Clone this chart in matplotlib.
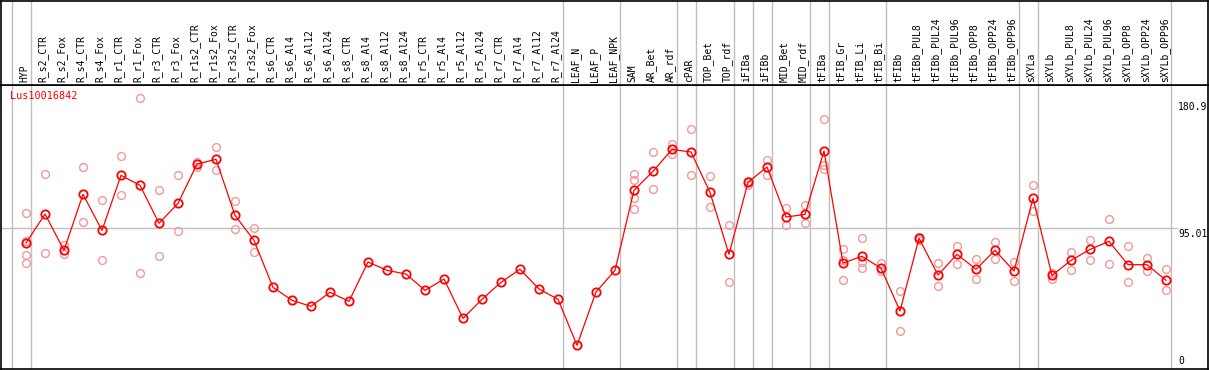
import numpy as np
import matplotlib.pyplot as plt

samples = ["HYP", "R_s2_CTR", "R_s2_Fox", "R_s4_CTR", "R_s4_Fox", "R_r1_CTR", "R_r1_Fox",
           "R_r3_CTR", "R_r3_Fox", "R_r1s2_CTR", "R_r1s2_Fox", "R_r3s2_CTR", "R_r3s2_Fox",
           "R_s6_CTR", "R_s6_Al4", "R_s6_Al12", "R_s6_Al24", "R_s8_CTR", "R_s8_Al4",
           "R_s8_Al12", "R_s8_Al24", "R_r5_CTR", "R_r5_Al4", "R_r5_Al12", "R_r5_Al24",
           "R_r7_CTR", "R_r7_Al4", "R_r7_Al12", "R_r7_Al24", "LEAF_N", "LEAF_P", "LEAF_NPK",
           "SAM", "AR_Bet", "AR_rdf", "cPAR", "TOP_Bet", "TOP_rdf", "iFIBa", "iFIBb",
           "MID_Bet", "MID_rdf", "tFIBa", "tFIB_Gr", "tFIB_Li", "tFIB_Bi", "tFIBb",
           "tFIBb_PUL8", "tFIBb_PUL24", "tFIBb_PUL96", "tFIBb_OPP8", "tFIBb_OPP24",
           "tFIBb_OPP96", "sXYLa", "sXYLb", "sXYLb_PUL8", "sXYLb_PUL24", "sXYLb_PUL96",
           "sXYLb_OPP8", "sXYLb_OPP24", "sXYLb_OPP96"]

means = [84.9, 104.4, 80.0, 117.7, 93.4, 130.5, 123.8, 98.2, 111.6, 138.1, 141.3, 103.5, 86.7,
         55.0, 46.3, 42.2, 51.7, 45.6, 72.1, 66.5, 64.0, 53.0, 60.6, 34.1, 47.0,
         58.4, 67.2, 53.9, 47.0, 16.0, 51.9, 66.5,
         120.4, 133.2, 148.0, 146.2, 119.0, 77.3, 125.8, 136.1, 102.4, 104.2, 146.9,
         71.4, 75.9, 67.9, 39.1, 88.1, 63.3, 77.3, 67.2, 80.0, 66.0,
         115.0, 63.1, 73.2, 80.6, 86.0, 70.3, 70.3, 59.8]

replicates = [[104.9, 86.0, 76.6, 71.2], [131.2, 78.2], [83.3, 77.7], [135.9, 98.8],
              [113.7, 73.2], [143.3, 117.0], [182.6, 64.5], [120.4, 75.9], [130.5, 92.8],
              [139.5, 136.1], [149.4, 133.8], [113.0, 94.1], [95.0, 78.8],
              [], [], [], [], [], [], [], [], [], [], [], [], [], [], [], [], [], [], [],
              [131.4, 127.1, 115.5, 107.6], [146.0, 121.0], [151.6, 144.7], [161.5, 130.5],
              [129.8, 108.9], [97.0, 58.4], [126.9, 124.2], [140.8, 130.9], [108.5, 96.8],
              [110.5, 98.6], [168.2, 137.3, 135.0], [80.6, 73.7, 59.8], [88.1, 72.1, 67.9],
              [71.6, 66.0], [52.3, 25.4], [89.1, 87.1], [71.2, 55.7], [82.7, 71.0],
              [73.9, 60.4], [85.6, 73.9], [72.1, 59.1], [124.2, 106.7], [64.7, 60.6],
              [78.6, 66.9], [87.1, 73.2], [100.8, 70.6], [82.7, 58.4], [74.8, 66.2],
              [67.2, 53.0]]

# group separators: drawn after these sample numbers (1-based)
group_ends = [0, 1, 29, 32, 35, 36, 38, 39, 40, 42, 43, 46, 53, 54, 61]
gene = "Lus10016842"
y_max_label = 180.9
y_mid_label = 95.01

W, H = 1209, 370
fig = plt.figure(figsize=(W / 100, H / 100), dpi=100)
mono = "DejaVu Sans Mono"
grid_c = "#c0c0c0"
red = "#ff0000"
pink = "#f09a9a"

# pixel layout of the original picture
px_left, px_right = 1, 1208
px_head = 85
px_bottom = 369
x0_px, step_px = 26, 19
y_scale = 1.484  # px per unit

xlim = ((px_left - x0_px) / step_px, (px_right - x0_px) / step_px)
ylim = (0, (px_bottom - px_head) / y_scale)

ax = fig.add_axes([px_left / W, (H - px_bottom) / H, (px_right - px_left) / W,
                   (px_bottom - px_head) / H])
hx = fig.add_axes([px_left / W, (H - px_head) / H, (px_right - px_left) / W,
                   (px_head - 1) / H])

for a in (ax, hx):
    a.set_xlim(*xlim)
    a.set_xticks([])
    a.set_yticks([])
    for s in a.spines.values():
        s.set_color("black")
        s.set_linewidth(1.2)
    for g in group_ends:
        a.axvline(g - 1 + 0.25, color=grid_c, lw=1, zorder=0)
ax.set_ylim(*ylim)
hx.set_ylim(0, 1)

x = np.arange(len(samples))

# header labels
for i, name in enumerate(samples):
    hx.text(i - 0.1, 0.03, name, rotation=90, ha="center", va="bottom",
            fontsize=7, family=mono)

# reference line and value labels
x_line_end = (1177 - x0_px) / step_px
ax.hlines(y_mid_label, xlim[0], x_line_end, color=grid_c, lw=1, zorder=0)
x_lab = (1178 - x0_px) / step_px
ax.text(x_lab, y_max_label - 1, f"{y_max_label}", ha="left", va="top", fontsize=7, family=mono)
ax.text(x_lab, y_mid_label - 1, f"{y_mid_label}", ha="left", va="top", fontsize=7, family=mono)
ax.text(x_lab, 2, "0", ha="left", va="bottom", fontsize=7, family=mono)

# replicates
for i, reps in enumerate(replicates):
    if reps:
        ax.plot([i] * len(reps), reps, "o", ms=5.6, mfc="none", mec=pink, mew=1.0, zorder=2)

# means
ax.plot(x, means, "-", color=red, lw=0.9, zorder=3)
ax.plot(x, means, "o", ms=6.0, mfc="none", mec=red, mew=1.3, zorder=4)

ax.text((10 - x0_px) / step_px, ylim[1] - 4, gene, color=red, ha="left", va="top",
        fontsize=7.3, family=mono)

fig.savefig("out.png", dpi=100)
